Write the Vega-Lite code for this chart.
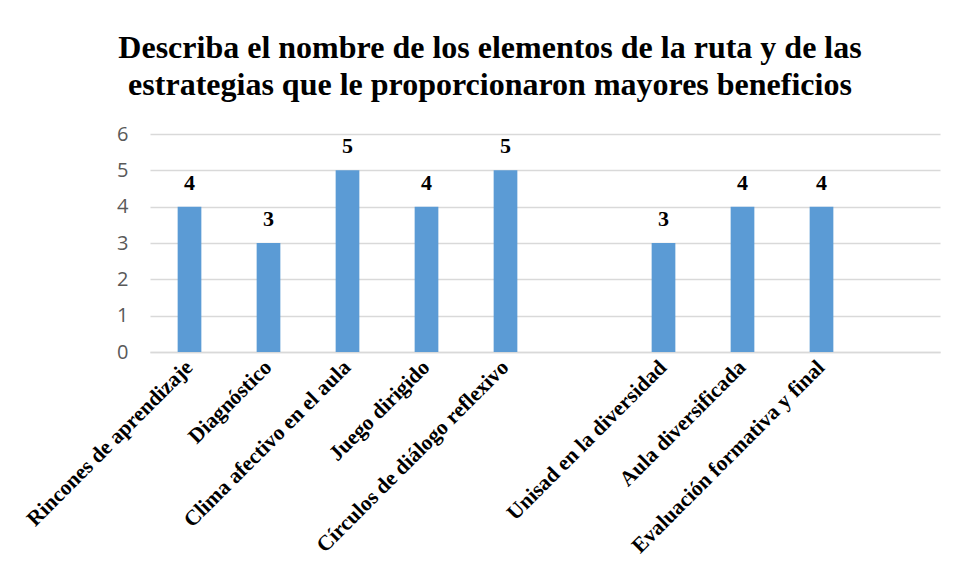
{
  "$schema": "https://vega.github.io/schema/vega-lite/v6.json",
  "autosize": {"type": "none"},
  "width": 790,
  "height": 218,
  "padding": {"left": 150, "top": 134, "right": 16, "bottom": 227},
  "background": "white",
  "title": {
    "text": ["Describa el nombre de los elementos de la ruta y de las", "estrategias que le proporcionaron mayores beneficios"],
    "font": "Liberation Serif",
    "fontSize": 32,
    "fontWeight": "bold",
    "color": "#000000",
    "anchor": "middle",
    "dx": -55,
    "offset": 22,
    "lineHeight": 37
  },
  "data": {
    "values": [
      {"categoria": "Rincones de aprendizaje", "valor": 4},
      {"categoria": "Diagnóstico", "valor": 3},
      {"categoria": "Clima afectivo en el aula", "valor": 5},
      {"categoria": "Juego dirigido", "valor": 4},
      {"categoria": "Círculos de diálogo reflexivo", "valor": 5},
      {"categoria": "Unisad en la diversidad", "valor": 3},
      {"categoria": "Aula diversificada", "valor": 4},
      {"categoria": "Evaluación formativa y final", "valor": 4}
    ]
  },
  "encoding": {
    "x": {
      "field": "categoria",
      "type": "nominal",
      "sort": null,
      "scale": {
        "domain": ["Rincones de aprendizaje", "Diagnóstico", "Clima afectivo en el aula", "Juego dirigido", "Círculos de diálogo reflexivo", " ", "Unisad en la diversidad", "Aula diversificada", "Evaluación formativa y final", "  "],
        "paddingInner": 0.7,
        "paddingOuter": 0.35
      },
      "axis": {
        "title": null,
        "labelAngle": -45,
        "labelAlign": "right",
        "labelBaseline": "middle",
        "labelFont": "Liberation Serif",
        "labelFontSize": 21.5,
        "labelFontWeight": "bold",
        "labelColor": "#000000",
        "labelPadding": 12,
        "labelLimit": 400,
        "ticks": false,
        "domainColor": "#d9d9d9",
        "domainWidth": 1.5
      }
    },
    "y": {
      "field": "valor",
      "type": "quantitative",
      "scale": {"domain": [0, 6], "nice": false},
      "axis": {
        "title": null,
        "values": [0, 1, 2, 3, 4, 5, 6],
        "labelFont": "Open Sans",
        "labelFontSize": 20,
        "labelColor": "#595959",
        "labelPadding": 22,
        "ticks": false,
        "domain": false,
        "gridColor": "#d9d9d9",
        "gridWidth": 1.5
      }
    }
  },
  "layer": [
    {
      "mark": {"type": "bar", "color": "#5b9bd5"}
    },
    {
      "mark": {
        "type": "text",
        "dy": -24,
        "font": "Liberation Serif",
        "fontSize": 22,
        "fontWeight": "bold",
        "color": "#000000"
      },
      "encoding": {"text": {"field": "valor", "type": "quantitative"}}
    }
  ],
  "config": {"view": {"stroke": null}}
}
